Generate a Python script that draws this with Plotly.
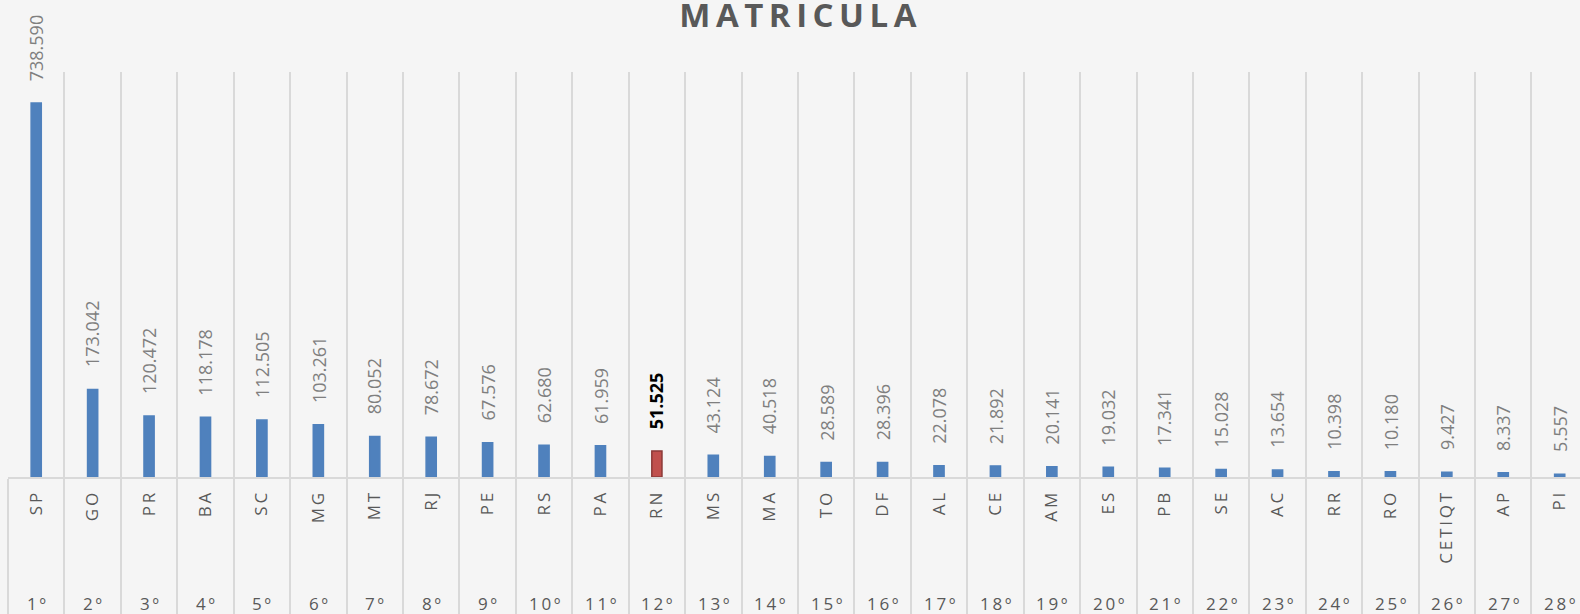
import plotly.graph_objects as go

# Matrícula por estado (ranking)
states = ["SP", "GO", "PR", "BA", "SC", "MG", "MT", "RJ", "PE", "RS", "PA", "RN", "MS", "MA",
          "TO", "DF", "AL", "CE", "AM", "ES", "PB", "SE", "AC", "RR", "RO", "CETIQT", "AP", "PI"]
matriculas = [738590, 173042, 120472, 118178, 112505, 103261, 80052, 78672, 67576, 62680,
              61959, 51525, 43124, 40518, 28589, 28396, 22078, 21892, 20141, 19032,
              17341, 15028, 13654, 10398, 10180, 9427, 8337, 5557]
ranks = [f"{i + 1}º" for i in range(len(states))]
highlight = "RN"

BLUE = "#4f81bd"
RED = "#c0504d"
GRID = "#d9d9d9"
LABEL = "#595959"


def spaced(s, sep="\u2009"):
    return sep.join(list(s))


def br_number(v):
    return f"{v:,}".replace(",", ".")


x = list(range(len(states)))
colors = [RED if s == highlight else BLUE for s in states]
line_colors = ["#8c3a38" if s == highlight else BLUE for s in states]

fig = go.Figure()
fig.add_trace(
    go.Bar(
        x=x,
        y=matriculas,
        width=0.18,
        marker=dict(color=colors, line=dict(color=line_colors, width=1.5)),
        hovertemplate="%{customdata}: %{y:,}<extra></extra>",
        customdata=states,
    )
)

# value labels above the bars (rotated)
for i, (s, v) in enumerate(zip(states, matriculas)):
    is_hl = s == highlight
    fig.add_annotation(
        x=i, y=v, xref="x", yref="y",
        text=f"<b>{br_number(v)}</b>" if is_hl else br_number(v),
        textangle=-90, showarrow=False,
        xanchor="center", yanchor="bottom", yshift=20,
        font=dict(family="Open Sans", size=18, color="#000000" if is_hl else "#7f7f7f"),
    )

# ranking labels under the state codes
for i, r in enumerate(ranks):
    fig.add_annotation(
        x=i, y=-0.345, xref="x", yref="paper",
        text=spaced(r), showarrow=False,
        font=dict(family="Open Sans", size=17, color=LABEL),
    )

fig.update_layout(
    title=dict(
        text="<b>" + spaced("MATRICULA", "\u2006") + "</b>",
        x=0.505, xref="container", xanchor="center",
        y=0.975, yref="container", yanchor="middle",
        font=dict(family="Open Sans", size=33, color=LABEL),
    ),
    width=1580,
    height=614,
    margin=dict(l=8, r=0, t=72, b=137),
    plot_bgcolor="#f5f5f5",
    paper_bgcolor="#f5f5f5",
    showlegend=False,
    xaxis=dict(
        range=[-0.5, 27.36],
        automargin=False,
        tickmode="array",
        tickvals=x,
        ticktext=[spaced(s) for s in states],
        tickangle=-90,
        ticks="",
        ticklabelstandoff=7,
        tickfont=dict(family="Open Sans", size=17, color=LABEL),
        showgrid=False,
        zeroline=False,
        showline=True,
        linecolor=GRID,
        linewidth=2,
        minor=dict(
            tickmode="array",
            tickvals=[i - 0.5 for i in range(len(states) + 1)],
            ticks="outside",
            ticklen=140,
            tickcolor=GRID,
            tickwidth=1.5,
            showgrid=True,
            gridcolor=GRID,
            gridwidth=1.5,
        ),
    ),
    yaxis=dict(range=[0, 800000], visible=False, showgrid=False, automargin=False),
)

# the page body has a default 8px margin; drop it so the figure fills the window
fig.write_html(
    "out.html",
    config={"displayModeBar": False},
    post_script="document.body.style.margin='0';document.body.style.background='#f5f5f5';",
)
